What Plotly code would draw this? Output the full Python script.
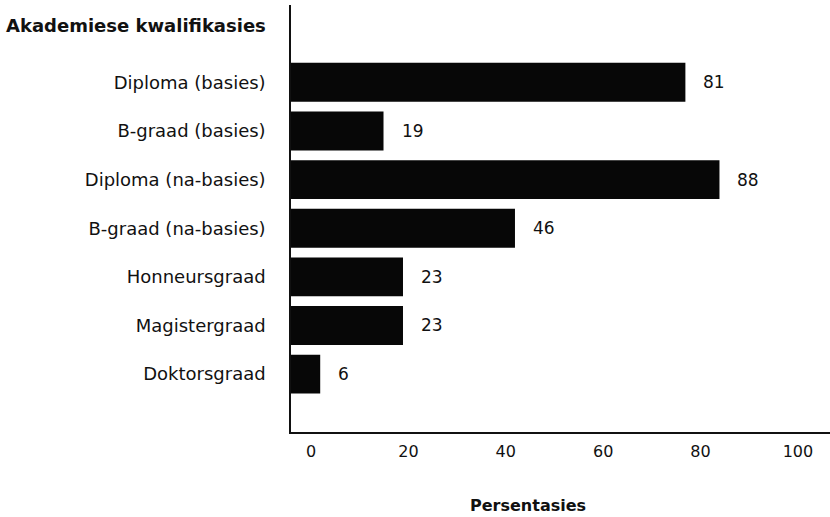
import plotly.graph_objects as go

categories = ["Diploma (basies)", "B-graad (basies)", "Diploma (na-basies)",
              "B-graad (na-basies)", "Honneursgraad", "Magistergraad", "Doktorsgraad"]
values = [81, 19, 88, 46, 23, 23, 6]
tick_values = [0, 20, 40, 60, 80, 100]
tick_labels = ["0", "20", "40", "60", "80", "100"]
y_title = "Akademiese kwalifikasies"
x_title = "Persentasies"

FONT = "DejaVu Sans"

fig = go.Figure()
fig.add_trace(go.Bar(
    x=values, y=categories, orientation="h",
    marker=dict(color="#070707", line=dict(width=0)),
    hoverinfo="skip",
))

for v, c in zip(values, categories):
    fig.add_annotation(x=v, y=c, text=str(v), showarrow=False,
                       xanchor="left", yanchor="middle", xshift=16,
                       font=dict(family=FONT, size=17, color="#111"))

fig.add_annotation(xref="paper", yref="paper", x=-0.0427, y=0.953,
                   text="<b>%s</b>" % y_title, showarrow=False,
                   xanchor="right", yanchor="middle",
                   font=dict(family=FONT, size=18, color="#111"))
fig.add_annotation(xref="paper", yref="paper", x=0.44, y=-0.171,
                   text="<b>%s</b>" % x_title, showarrow=False,
                   xanchor="center", yanchor="middle",
                   font=dict(family=FONT, size=16, color="#111"))

fig.update_layout(
    width=830, height=517,
    margin=dict(l=291, r=0, t=5, b=85),
    paper_bgcolor="white", plot_bgcolor="white",
    bargap=0.2, showlegend=False,
    font=dict(family=FONT, color="#111"),
)
fig.update_xaxes(
    range=[0, 110.7], tickvals=tick_values, ticktext=tick_labels,
    showgrid=False, zeroline=False, showline=True, linecolor="#111", linewidth=1.5,
    ticks="", ticklabelshift=20, ticklabelstandoff=4,
    tickfont=dict(family=FONT, size=16, color="#111"), fixedrange=True,
)
fig.update_yaxes(
    type="category", categoryorder="array", categoryarray=categories,
    range=[7.19, -1.59],
    showgrid=False, zeroline=False, showline=True, linecolor="#111", linewidth=1.5,
    ticks="", ticklabelstandoff=20,
    tickfont=dict(family=FONT, size=18, color="#111"), fixedrange=True,
)

fig.write_html("out.html", config={"displayModeBar": False},
               post_script="document.body.style.margin='0';document.body.style.padding='0';")
